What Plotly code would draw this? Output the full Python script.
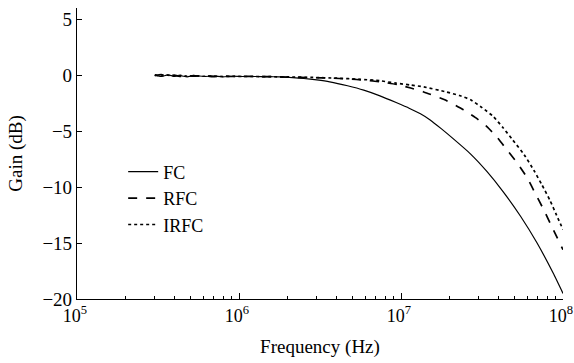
import plotly.graph_objects as go

# log10(frequency) sample points and gains (dB)
fc_logf = [5.48, 5.52, 5.56, 5.60, 5.64, 5.68, 5.72, 5.78, 5.84, 5.90, 5.96, 6.02, 6.10, 6.18, 6.25,
           6.33, 6.40, 6.48, 6.56, 6.67, 6.77, 6.87, 6.97, 7.05, 7.12, 7.18, 7.25, 7.32, 7.43, 7.53,
           7.63, 7.74, 7.84, 7.94, 8.00]
fc_gain = [0.0, -0.12, 0.02, -0.1, -0.05, -0.15, -0.02, -0.12, -0.08, -0.15, -0.1, -0.12, -0.12, -0.13, -0.16,
           -0.22, -0.3, -0.43, -0.6, -0.95, -1.34, -1.85, -2.45, -2.95, -3.45, -4.0, -4.8, -5.65, -7.05, -8.6,
           -10.4, -12.65, -15.0, -17.7, -19.5]

rfc_logf = [5.48, 5.52, 5.56, 5.60, 5.64, 5.68, 5.72, 5.78, 5.84, 5.90, 5.96, 6.02, 6.10, 6.20, 6.30,
            6.45, 6.57, 6.67, 6.78, 6.87, 6.98, 7.06, 7.14, 7.27, 7.385, 7.46, 7.53, 7.59, 7.65, 7.72,
            7.78, 7.83, 7.88, 7.94, 8.00]
rfc_gain = [-0.05, 0.05, -0.1, 0.0, -0.12, -0.03, -0.1, -0.05, -0.14, -0.08, -0.12, -0.1, -0.12, -0.14, -0.17,
            -0.22, -0.27, -0.33, -0.45, -0.6, -0.85, -1.15, -1.5, -2.2, -3.1, -3.8, -4.6, -5.5, -6.6, -7.9,
            -9.2, -10.6, -12.0, -13.8, -15.6]

irfc_logf = [5.48, 5.52, 5.56, 5.60, 5.64, 5.68, 5.72, 5.78, 5.84, 5.90, 5.96, 6.02, 6.10, 6.20, 6.31,
             6.45, 6.60, 6.75, 6.87, 6.97, 7.06, 7.14, 7.28, 7.36, 7.43, 7.50, 7.57, 7.63, 7.69, 7.76,
             7.82, 7.87, 7.92, 7.96, 8.00]
irfc_gain = [0.02, -0.08, 0.0, -0.1, -0.02, -0.1, -0.05, -0.1, -0.08, -0.12, -0.1, -0.12, -0.12, -0.14, -0.16,
             -0.2, -0.27, -0.37, -0.5, -0.72, -0.88, -1.05, -1.5, -1.82, -2.2, -2.9, -3.7, -4.7, -5.8, -7.1,
             -8.5, -9.8, -11.2, -12.5, -13.8]

x_tickvals = [1e5, 1e6, 1e7, 1e8]
x_ticktext = ["10<sup>5</sup>", "10<sup>6</sup>", "10<sup>7</sup>", "10<sup>8</sup>"]
y_tickvals = [-20, -15, -10, -5, 0, 5]

fc_f = [10 ** v for v in fc_logf]
rfc_f = [10 ** v for v in rfc_logf]
irfc_f = [10 ** v for v in irfc_logf]

font = "Liberation Serif"
fs = 19

fig = go.Figure()
fig.add_trace(go.Scatter(x=fc_f, y=fc_gain, mode="lines", name="FC",
                         line=dict(color="black", width=1.2, dash="solid", shape="spline", smoothing=0.5)))
fig.add_trace(go.Scatter(x=rfc_f, y=rfc_gain, mode="lines", name="RFC",
                         line=dict(color="black", width=1.7, dash="dash", shape="spline", smoothing=0.5)))
fig.add_trace(go.Scatter(x=irfc_f, y=irfc_gain, mode="lines", name="IRFC",
                         line=dict(color="black", width=1.7, dash="dot", shape="spline", smoothing=0.5)))

fig.update_layout(
    width=574, height=363,
    margin=dict(l=77, r=11, t=8, b=64),
    paper_bgcolor="white", plot_bgcolor="white",
    font=dict(family=font, size=fs, color="black"),
    showlegend=True,
    legend=dict(x=0.095, y=0.50, xanchor="left", yanchor="top",
                bgcolor="rgba(0,0,0,0)", borderwidth=0,
                font=dict(family=font, size=18), tracegroupgap=0),
    xaxis=dict(type="log", range=[5, 8], tickvals=x_tickvals, ticktext=x_ticktext,
               ticks="inside", ticklen=6, tickwidth=1, tickcolor="black",
               ticklabeloverflow="allow", automargin=False, ticklabelshift=-2,
               minor=dict(ticks="inside", ticklen=3, tickwidth=1, tickcolor="black",
                          dtick="D1", showgrid=False),
               showline=True, linecolor="black", linewidth=1.2, mirror=False,
               showgrid=False, zeroline=False,
               title=dict(text="Frequency (Hz)", font=dict(family=font, size=fs), standoff=14),
               tickfont=dict(family=font, size=18)),
    yaxis=dict(range=[-20, 6], tickvals=y_tickvals,
               ticks="inside", ticklen=5, tickwidth=1, tickcolor="black",
               automargin=False,
               showline=True, linecolor="black", linewidth=1.2, mirror=False,
               showgrid=False, zeroline=False,
               title=dict(text="Gain (dB)", font=dict(family=font, size=fs), standoff=14),
               tickfont=dict(family=font, size=fs)),
)

fig.write_html("out.html")
